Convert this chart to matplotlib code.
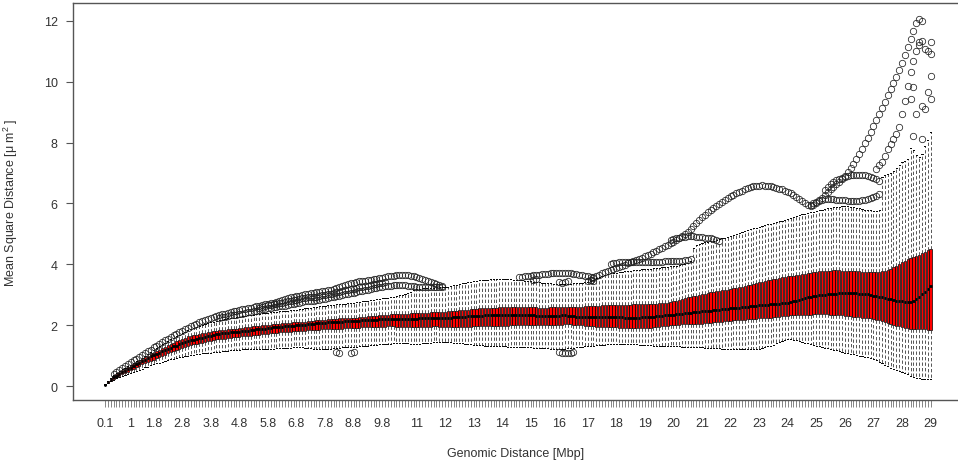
import numpy as np
import matplotlib
matplotlib.use("Agg")
import matplotlib.pyplot as plt

#################################
######## Data (read off) ########
#################################
# one box per 0.1 Mbp, from 0.1 to 29.0 Mbp
genomic_mbp = [round(0.1 * k, 1) for k in range(1, 291)]

# tick labels that are printed under the axis
shown_labels = ["0.1", "1", "1.8", "2.8", "3.8", "4.8", "5.8", "6.8", "7.8", "8.8", "9.8",
                "11", "12", "13", "14", "15", "16", "17", "18", "19", "20", "21", "22",
                "23", "24", "25", "26", "27", "28", "29"]

median = [
    0.04, 0.13, 0.21, 0.28, 0.34, 0.40, 0.45, 0.50, 0.55, 0.59,
    0.65, 0.71, 0.77, 0.82, 0.87, 0.92, 0.97, 1.02, 1.06, 1.10,
    1.14, 1.18, 1.22, 1.26, 1.30, 1.33, 1.37, 1.40, 1.44, 1.47,
    1.50, 1.52, 1.55, 1.57, 1.59, 1.61, 1.63, 1.66, 1.68, 1.70,
    1.71, 1.73, 1.74, 1.75, 1.76, 1.77, 1.78, 1.79, 1.80, 1.81,
    1.82, 1.84, 1.85, 1.86, 1.87, 1.88, 1.89, 1.91, 1.92, 1.93,
    1.94, 1.94, 1.95, 1.96, 1.96, 1.97, 1.98, 1.99, 2.00, 2.01,
    2.02, 2.03, 2.04, 2.05, 2.06, 2.07, 2.07, 2.08, 2.09, 2.10,
    2.10, 2.11, 2.12, 2.12, 2.13, 2.13, 2.14, 2.14, 2.15, 2.15,
    2.16, 2.16, 2.17, 2.17, 2.18, 2.18, 2.19, 2.19, 2.20, 2.20,
    2.20, 2.21, 2.21, 2.20, 2.20, 2.19, 2.20, 2.20, 2.21, 2.21,
    2.22, 2.22, 2.23, 2.23, 2.24, 2.24, 2.23, 2.23, 2.24, 2.24,
    2.25, 2.25, 2.26, 2.26, 2.27, 2.28, 2.28, 2.29, 2.29, 2.30,
    2.30, 2.31, 2.31, 2.32, 2.32, 2.32, 2.33, 2.33, 2.33, 2.33,
    2.33, 2.33, 2.34, 2.34, 2.34, 2.34, 2.33, 2.33, 2.33, 2.32,
    2.32, 2.31, 2.31, 2.30, 2.30, 2.30, 2.30, 2.31, 2.31, 2.31,
    2.32, 2.32, 2.31, 2.30, 2.29, 2.28, 2.28, 2.27, 2.27, 2.27,
    2.27, 2.27, 2.27, 2.27, 2.26, 2.26, 2.26, 2.26, 2.26, 2.26,
    2.26, 2.26, 2.25, 2.25, 2.25, 2.25, 2.25, 2.25, 2.26, 2.26,
    2.27, 2.27, 2.28, 2.29, 2.30, 2.31, 2.32, 2.33, 2.34, 2.35,
    2.36, 2.37, 2.38, 2.39, 2.40, 2.41, 2.42, 2.43, 2.44, 2.45,
    2.46, 2.47, 2.48, 2.49, 2.50, 2.51, 2.52, 2.53, 2.54, 2.55,
    2.56, 2.57, 2.58, 2.59, 2.60, 2.61, 2.62, 2.63, 2.64, 2.65,
    2.66, 2.67, 2.67, 2.68, 2.69, 2.70, 2.71, 2.72, 2.73, 2.74,
    2.76, 2.78, 2.80, 2.83, 2.86, 2.88, 2.91, 2.93, 2.95, 2.97,
    2.98, 2.99, 3.00, 3.01, 3.02, 3.03, 3.04, 3.05, 3.05, 3.06,
    3.06, 3.06, 3.05, 3.05, 3.04, 3.03, 3.02, 3.01, 2.99, 2.97,
    2.95, 2.93, 2.91, 2.89, 2.87, 2.85, 2.83, 2.81, 2.80, 2.78,
    2.76, 2.75, 2.76, 2.80, 2.86, 2.93, 3.01, 3.10, 3.20, 3.30,
]

q3 = [
    0.05, 0.15, 0.24, 0.32, 0.39, 0.45, 0.51, 0.56, 0.61, 0.66,
    0.71, 0.77, 0.83, 0.88, 0.94, 0.99, 1.04, 1.09, 1.14, 1.19,
    1.24, 1.29, 1.34, 1.39, 1.43, 1.47, 1.51, 1.55, 1.59, 1.63,
    1.65, 1.67, 1.69, 1.71, 1.73, 1.75, 1.77, 1.79, 1.80, 1.82,
    1.83, 1.84, 1.85, 1.86, 1.87, 1.88, 1.89, 1.90, 1.91, 1.93,
    1.94, 1.95, 1.96, 1.97, 1.98, 1.99, 2.00, 2.01, 2.02, 2.04,
    2.05, 2.05, 2.06, 2.07, 2.07, 2.08, 2.09, 2.09, 2.10, 2.11,
    2.12, 2.13, 2.14, 2.15, 2.16, 2.17, 2.17, 2.18, 2.19, 2.20,
    2.20, 2.21, 2.22, 2.22, 2.23, 2.24, 2.24, 2.25, 2.25, 2.26,
    2.27, 2.28, 2.29, 2.29, 2.30, 2.31, 2.32, 2.33, 2.34, 2.35,
    2.36, 2.36, 2.37, 2.37, 2.38, 2.38, 2.38, 2.39, 2.39, 2.39,
    2.40, 2.40, 2.41, 2.41, 2.42, 2.42, 2.43, 2.43, 2.44, 2.44,
    2.45, 2.46, 2.47, 2.48, 2.49, 2.50, 2.51, 2.51, 2.52, 2.53,
    2.54, 2.55, 2.55, 2.56, 2.57, 2.57, 2.58, 2.58, 2.59, 2.59,
    2.59, 2.60, 2.60, 2.60, 2.60, 2.60, 2.59, 2.59, 2.59, 2.59,
    2.59, 2.59, 2.58, 2.58, 2.58, 2.58, 2.59, 2.59, 2.60, 2.60,
    2.61, 2.61, 2.61, 2.61, 2.60, 2.60, 2.61, 2.61, 2.62, 2.62,
    2.63, 2.63, 2.64, 2.64, 2.65, 2.65, 2.65, 2.66, 2.66, 2.66,
    2.66, 2.66, 2.67, 2.67, 2.67, 2.68, 2.68, 2.68, 2.69, 2.69,
    2.70, 2.70, 2.71, 2.71, 2.72, 2.72, 2.73, 2.74, 2.76, 2.78,
    2.81, 2.84, 2.87, 2.89, 2.91, 2.93, 2.95, 2.97, 2.99, 3.02,
    3.04, 3.06, 3.08, 3.10, 3.11, 3.13, 3.14, 3.16, 3.17, 3.19,
    3.21, 3.23, 3.25, 3.27, 3.29, 3.31, 3.33, 3.35, 3.38, 3.41,
    3.43, 3.45, 3.47, 3.49, 3.51, 3.53, 3.55, 3.57, 3.58, 3.60,
    3.62, 3.63, 3.65, 3.66, 3.68, 3.69, 3.71, 3.72, 3.74, 3.76,
    3.77, 3.78, 3.78, 3.79, 3.79, 3.80, 3.80, 3.80, 3.79, 3.79,
    3.79, 3.78, 3.78, 3.77, 3.77, 3.76, 3.76, 3.75, 3.75, 3.74,
    3.74, 3.75, 3.77, 3.79, 3.82, 3.86, 3.90, 3.95, 4.01, 4.07,
    4.12, 4.16, 4.20, 4.25, 4.28, 4.32, 4.37, 4.42, 4.46, 4.52,
]

q1 = [
    0.03, 0.11, 0.18, 0.24, 0.29, 0.34, 0.39, 0.43, 0.47, 0.51,
    0.56, 0.61, 0.66, 0.71, 0.75, 0.79, 0.83, 0.87, 0.91, 0.95,
    0.99, 1.03, 1.07, 1.11, 1.15, 1.18, 1.22, 1.25, 1.28, 1.32,
    1.34, 1.37, 1.39, 1.41, 1.43, 1.45, 1.47, 1.49, 1.51, 1.53,
    1.54, 1.55, 1.56, 1.58, 1.59, 1.60, 1.61, 1.62, 1.63, 1.64,
    1.65, 1.66, 1.67, 1.68, 1.69, 1.70, 1.71, 1.72, 1.73, 1.74,
    1.75, 1.76, 1.77, 1.78, 1.78, 1.79, 1.80, 1.80, 1.81, 1.82,
    1.82, 1.83, 1.84, 1.84, 1.85, 1.85, 1.86, 1.86, 1.87, 1.87,
    1.88, 1.88, 1.89, 1.89, 1.90, 1.90, 1.91, 1.91, 1.92, 1.92,
    1.93, 1.93, 1.93, 1.94, 1.94, 1.94, 1.95, 1.95, 1.95, 1.96,
    1.96, 1.96, 1.95, 1.95, 1.94, 1.94, 1.93, 1.93, 1.93, 1.93,
    1.94, 1.94, 1.95, 1.95, 1.95, 1.96, 1.96, 1.95, 1.95, 1.95,
    1.95, 1.95, 1.94, 1.94, 1.94, 1.94, 1.95, 1.95, 1.95, 1.96,
    1.96, 1.96, 1.97, 1.97, 1.97, 1.98, 1.98, 1.98, 1.98, 1.98,
    1.98, 1.98, 1.99, 1.99, 1.99, 1.99, 1.99, 1.99, 1.99, 1.99,
    1.99, 1.99, 1.99, 2.00, 2.00, 2.00, 2.01, 2.01, 2.01, 2.02,
    2.02, 2.03, 2.03, 2.03, 2.02, 2.01, 2.00, 1.99, 1.98, 1.97,
    1.96, 1.96, 1.95, 1.95, 1.94, 1.94, 1.94, 1.93, 1.93, 1.93,
    1.92, 1.92, 1.92, 1.91, 1.91, 1.91, 1.91, 1.91, 1.91, 1.91,
    1.92, 1.92, 1.93, 1.94, 1.95, 1.96, 1.97, 1.98, 1.99, 2.00,
    2.01, 2.02, 2.03, 2.03, 2.04, 2.04, 2.05, 2.05, 2.05, 2.05,
    2.06, 2.07, 2.08, 2.09, 2.10, 2.11, 2.12, 2.13, 2.14, 2.15,
    2.16, 2.16, 2.17, 2.18, 2.18, 2.19, 2.20, 2.20, 2.21, 2.22,
    2.23, 2.24, 2.24, 2.25, 2.26, 2.27, 2.28, 2.29, 2.30, 2.31,
    2.32, 2.32, 2.33, 2.33, 2.34, 2.34, 2.35, 2.35, 2.36, 2.37,
    2.37, 2.37, 2.36, 2.36, 2.35, 2.35, 2.34, 2.33, 2.32, 2.31,
    2.30, 2.29, 2.28, 2.27, 2.26, 2.25, 2.24, 2.23, 2.22, 2.20,
    2.18, 2.16, 2.13, 2.10, 2.07, 2.04, 2.01, 1.98, 1.96, 1.93,
    1.91, 1.90, 1.89, 1.88, 1.87, 1.87, 1.86, 1.86, 1.85, 1.85,
]

whisker_low = [
    0.02, 0.09, 0.15, 0.20, 0.25, 0.29, 0.33, 0.36, 0.39, 0.42,
    0.46, 0.50, 0.54, 0.57, 0.61, 0.64, 0.68, 0.71, 0.74, 0.77,
    0.80, 0.83, 0.85, 0.88, 0.90, 0.92, 0.94, 0.96, 0.98, 1.00,
    1.02, 1.03, 1.05, 1.06, 1.07, 1.08, 1.09, 1.10, 1.11, 1.12,
    1.13, 1.14, 1.15, 1.16, 1.17, 1.18, 1.19, 1.20, 1.21, 1.22,
    1.22, 1.22, 1.22, 1.22, 1.22, 1.22, 1.22, 1.23, 1.23, 1.23,
    1.24, 1.24, 1.25, 1.25, 1.26, 1.26, 1.27, 1.27, 1.27, 1.27,
    1.26, 1.25, 1.24, 1.23, 1.22, 1.22, 1.22, 1.22, 1.22, 1.23,
    1.24, 1.25, 1.26, 1.27, 1.27, 1.28, 1.28, 1.29, 1.29, 1.30,
    1.31, 1.32, 1.33, 1.34, 1.35, 1.36, 1.37, 1.37, 1.38, 1.38,
    1.39, 1.40, 1.41, 1.41, 1.41, 1.40, 1.40, 1.39, 1.39, 1.38,
    1.39, 1.40, 1.41, 1.42, 1.43, 1.44, 1.45, 1.46, 1.46, 1.46,
    1.45, 1.44, 1.43, 1.42, 1.41, 1.40, 1.39, 1.38, 1.37, 1.36,
    1.35, 1.34, 1.34, 1.33, 1.33, 1.32, 1.32, 1.31, 1.31, 1.30,
    1.30, 1.29, 1.29, 1.28, 1.28, 1.28, 1.27, 1.27, 1.27, 1.27,
    1.26, 1.26, 1.25, 1.25, 1.24, 1.24, 1.23, 1.23, 1.22, 1.22,
    1.22, 1.23, 1.24, 1.25, 1.26, 1.27, 1.28, 1.29, 1.30, 1.31,
    1.32, 1.33, 1.34, 1.35, 1.36, 1.36, 1.37, 1.37, 1.38, 1.38,
    1.38, 1.38, 1.38, 1.37, 1.37, 1.37, 1.37, 1.36, 1.36, 1.36,
    1.35, 1.34, 1.33, 1.32, 1.32, 1.31, 1.31, 1.30, 1.30, 1.30,
    1.30, 1.30, 1.29, 1.29, 1.28, 1.28, 1.28, 1.27, 1.27, 1.27,
    1.26, 1.26, 1.25, 1.25, 1.24, 1.24, 1.23, 1.23, 1.22, 1.22,
    1.22, 1.22, 1.23, 1.23, 1.23, 1.22, 1.22, 1.22, 1.22, 1.22,
    1.24, 1.27, 1.30, 1.33, 1.36, 1.40, 1.44, 1.48, 1.52, 1.55,
    1.54, 1.52, 1.50, 1.47, 1.44, 1.42, 1.40, 1.37, 1.35, 1.32,
    1.30, 1.28, 1.26, 1.24, 1.22, 1.20, 1.18, 1.15, 1.13, 1.10,
    1.08, 1.06, 1.04, 1.02, 1.00, 0.98, 0.96, 0.94, 0.91, 0.89,
    0.85, 0.80, 0.75, 0.70, 0.65, 0.60, 0.56, 0.52, 0.49, 0.45,
    0.42, 0.38, 0.34, 0.30, 0.27, 0.25, 0.24, 0.24, 0.23, 0.23,
]

whisker_high = [
    0.06, 0.17, 0.27, 0.35, 0.42, 0.49, 0.55, 0.60, 0.65, 0.70,
    0.75, 0.81, 0.87, 0.93, 0.99, 1.06, 1.12, 1.19, 1.25, 1.31,
    1.37, 1.42, 1.48, 1.53, 1.58, 1.63, 1.68, 1.73, 1.78, 1.83,
    1.88, 1.91, 1.94, 1.97, 2.00, 2.03, 2.06, 2.09, 2.11, 2.14,
    2.16, 2.18, 2.20, 2.22, 2.24, 2.25, 2.27, 2.28, 2.29, 2.31,
    2.32, 2.34, 2.35, 2.37, 2.38, 2.39, 2.40, 2.41, 2.42, 2.43,
    2.44, 2.45, 2.46, 2.47, 2.48, 2.49, 2.50, 2.51, 2.52, 2.53,
    2.55, 2.57, 2.58, 2.60, 2.61, 2.62, 2.63, 2.64, 2.65, 2.66,
    2.67, 2.68, 2.69, 2.70, 2.71, 2.72, 2.73, 2.74, 2.75, 2.76,
    2.78, 2.80, 2.81, 2.83, 2.84, 2.86, 2.87, 2.88, 2.89, 2.90,
    2.92, 2.94, 2.96, 2.98, 3.00, 3.03, 3.06, 3.10, 3.14, 3.18,
    3.20, 3.21, 3.22, 3.22, 3.23, 3.23, 3.24, 3.24, 3.24, 3.25,
    3.27, 3.29, 3.31, 3.33, 3.35, 3.37, 3.39, 3.41, 3.43, 3.45,
    3.46, 3.47, 3.48, 3.49, 3.50, 3.51, 3.52, 3.52, 3.53, 3.53,
    3.52, 3.52, 3.51, 3.50, 3.49, 3.48, 3.47, 3.46, 3.45, 3.44,
    3.43, 3.42, 3.41, 3.40, 3.39, 3.38, 3.37, 3.36, 3.36, 3.35,
    3.35, 3.35, 3.35, 3.36, 3.37, 3.38, 3.39, 3.40, 3.41, 3.42,
    3.46, 3.50, 3.54, 3.58, 3.62, 3.65, 3.68, 3.70, 3.72, 3.73,
    3.74, 3.76, 3.77, 3.78, 3.79, 3.80, 3.81, 3.82, 3.83, 3.84,
    3.85, 3.86, 3.87, 3.88, 3.89, 3.90, 3.91, 3.92, 3.93, 3.95,
    3.96, 3.98, 4.00, 4.02, 4.05, 4.10, 4.55, 4.62, 4.66, 4.70,
    4.72, 4.74, 4.76, 4.78, 4.80, 4.82, 4.85, 4.88, 4.91, 4.94,
    4.97, 5.00, 5.03, 5.06, 5.09, 5.12, 5.15, 5.18, 5.20, 5.22,
    5.25, 5.28, 5.31, 5.34, 5.37, 5.40, 5.42, 5.44, 5.47, 5.49,
    5.52, 5.55, 5.58, 5.61, 5.64, 5.66, 5.68, 5.71, 5.73, 5.76,
    5.78, 5.80, 5.82, 5.84, 5.86, 5.88, 5.89, 5.90, 5.92, 5.93,
    5.92, 5.90, 5.88, 5.86, 5.84, 5.82, 5.80, 5.79, 5.78, 5.76,
    5.76, 5.80, 6.88, 6.92, 6.96, 7.00, 7.06, 7.15, 7.28, 7.35,
    7.40, 7.46, 7.82, 7.75, 7.60, 7.52, 7.63, 7.90, 8.10, 8.36,
]

# outlier chains: first Mbp of the chain, then one value per box
out_top_start = 0.4
out_top = [
    0.40, 0.47, 0.54, 0.60, 0.66, 0.72, 0.78,
    0.84, 0.90, 0.96, 1.02, 1.08, 1.14, 1.20, 1.27, 1.33, 1.39,
    1.45, 1.51, 1.56, 1.62, 1.67, 1.72, 1.77, 1.82, 1.87, 1.92,
    1.97, 2.01, 2.05, 2.09, 2.13, 2.17, 2.21, 2.24, 2.27, 2.30,
    2.33, 2.36, 2.38, 2.40, 2.43, 2.45, 2.47, 2.50, 2.52, 2.54,
    2.56, 2.58, 2.60, 2.62, 2.64, 2.66, 2.68, 2.70, 2.72, 2.74,
    2.76, 2.79, 2.82, 2.85, 2.88, 2.91, 2.93, 2.95, 2.97, 2.99,
    3.01, 3.03, 3.05, 3.07, 3.08, 3.10, 3.11, 3.12, 3.14, 3.17,
    3.20, 3.23, 3.26, 3.29, 3.32, 3.35, 3.38, 3.40, 3.42, 3.44,
    3.45, 3.46, 3.47, 3.49, 3.51, 3.52, 3.54, 3.56, 3.58, 3.60,
    3.62, 3.63, 3.64, 3.65, 3.65, 3.65, 3.64, 3.62, 3.60, 3.57,
    3.54, 3.51, 3.48, 3.45, 3.42, 3.39, 3.36, 3.33, 3.30,
]

out_second_start = 4.1
out_second = [
    2.24, 2.26, 2.28, 2.30, 2.32, 2.33, 2.35, 2.36, 2.38, 2.40,
    2.42, 2.44, 2.46, 2.48, 2.50, 2.52, 2.54, 2.56, 2.58, 2.60,
    2.61, 2.62, 2.63, 2.64, 2.66, 2.68, 2.70, 2.72, 2.74, 2.76,
    2.78, 2.79, 2.80, 2.81, 2.82, 2.83, 2.85, 2.87, 2.89, 2.91,
    2.93, 2.95, 2.97, 2.99, 3.01, 3.03, 3.05, 3.07, 3.09, 3.11,
    3.13, 3.15, 3.17, 3.19, 3.21, 3.23, 3.25, 3.27, 3.28, 3.29,
    3.30, 3.31, 3.32, 3.32, 3.32, 3.31, 3.30, 3.29, 3.28, 3.27,
    3.27, 3.27, 3.26, 3.26, 3.26, 3.26, 3.25, 3.25, 3.25,
]

out_middle_start = 5.5
out_middle = [
    2.58, 2.60, 2.62, 2.65, 2.67, 2.69,
    2.70, 2.72, 2.74, 2.76, 2.78, 2.80, 2.82, 2.84, 2.86, 2.88,
    2.90, 2.91, 2.92, 2.93, 2.94, 2.96, 2.98, 3.00, 3.02, 3.04,
    3.06, 3.08, 3.10, 3.12, 3.14, 3.16, 3.18, 3.20, 3.22, 3.24,
    3.26, 3.28, 3.30, 3.32, 3.34, 3.36, 3.38, 3.40, 3.42,
]

out_mid15_start = 14.6
out_mid15 = [
    3.58, 3.59, 3.60, 3.62, 3.63,
    3.64, 3.65, 3.66, 3.67, 3.68, 3.69, 3.70, 3.70, 3.71, 3.71,
    3.71, 3.71, 3.70, 3.70, 3.69, 3.68, 3.66, 3.64, 3.62, 3.60,
    3.58, 3.57,
]

out_big_start = 17.0
out_big = [
    3.45, 3.50, 3.56, 3.61, 3.66, 3.71, 3.75, 3.78, 3.82, 3.85,
    3.88, 3.91, 3.95, 3.99, 4.03, 4.07, 4.11, 4.15, 4.18, 4.22,
    4.26, 4.30, 4.34, 4.39, 4.44, 4.49, 4.54, 4.59, 4.64, 4.70,
    4.75, 4.80, 4.85, 4.92, 4.99, 5.07, 5.16, 5.26, 5.36, 5.46,
    5.55, 5.63, 5.71, 5.79, 5.86, 5.93, 5.99, 6.05, 6.11, 6.17,
    6.23, 6.28, 6.33, 6.38, 6.42, 6.46, 6.50, 6.53, 6.56, 6.58,
    6.59, 6.60, 6.59, 6.58, 6.56, 6.54, 6.52, 6.49, 6.46, 6.42,
    6.38, 6.33, 6.27, 6.21, 6.14, 6.07, 6.01, 5.96, 5.93, 5.95,
    6.02, 6.10, 6.19, 6.28, 6.37, 6.46, 6.55, 6.64, 6.72, 6.80,
    6.90, 7.02, 7.15, 7.30, 7.46, 7.63, 7.80, 7.98, 8.16, 8.35,
    8.55, 8.75, 8.95, 9.15, 9.35, 9.55, 9.75, 9.95, 10.15, 10.38,
    10.62, 10.88, 11.15, 11.42, 11.68, 11.92, 12.05, 12.00,
]

out_branch18_start = 17.8
out_branch18 = [
    4.02, 4.04, 4.05, 4.06, 4.07, 4.07, 4.08, 4.08, 4.08, 4.08,
    4.08, 4.08, 4.08, 4.08, 4.08, 4.09, 4.09, 4.09, 4.09, 4.10,
    4.10, 4.10, 4.10, 4.11, 4.11, 4.12, 4.13, 4.14, 4.16,
]

out_branch20_start = 19.9
out_branch20 = [
    4.80, 4.83, 4.86, 4.88, 4.90, 4.91, 4.92, 4.92, 4.92, 4.91,
    4.90, 4.89, 4.88, 4.87, 4.85, 4.83, 4.80, 4.77,
]

out_loop_up_start = 25.3
out_loop_up = [
    6.45, 6.55, 6.63, 6.70, 6.76, 6.81, 6.85, 6.88, 6.90, 6.92,
    6.93, 6.94, 6.94, 6.94, 6.93, 6.91, 6.88, 6.84, 6.80, 6.75,
]

out_loop_low_start = 24.8
out_loop_low = [
    5.95, 6.00, 6.05, 6.09, 6.12, 6.14, 6.15, 6.15, 6.14, 6.13,
    6.12, 6.11, 6.10, 6.09, 6.08, 6.08, 6.08, 6.09, 6.10, 6.12,
    6.15, 6.18, 6.21, 6.25, 6.30,
]

out_rise27_start = 27.1
out_rise27 = [
    7.13, 7.25, 7.36, 7.55, 7.79, 7.95, 8.12, 8.30, 8.51, 8.94,
    9.37, 9.86, 10.32, 10.68, 11.01, 11.20, 11.34,
]

# single outliers (Mbp, value)
out_single_mbp = [8.2, 8.3, 8.7, 8.8, 15.1, 15.2, 16.0, 16.1, 16.2, 16.3,
                  16.0, 16.1, 16.2, 16.3, 16.4, 16.5, 17.1, 17.2,
                  28.3, 28.4, 28.4, 28.5, 28.6, 28.7, 28.7, 28.8, 28.8, 28.9,
                  28.9, 29.0, 29.0, 29.0, 29.0]
out_single_val = [1.12, 1.10, 1.09, 1.11, 3.50, 3.52, 3.42, 3.40, 3.42, 3.44,
                  1.12, 1.10, 1.08, 1.08, 1.10, 1.12, 3.47, 3.46,
                  9.43, 8.22, 9.83, 8.94, 11.30, 9.20, 8.12, 9.10, 11.08, 11.00,
                  9.66, 11.30, 10.90, 10.19, 9.43]

#########################################
########### Build the box stats #########
#########################################
n_box = len(genomic_mbp)
fliers = [[] for _ in range(n_box)]


def box_index(mbp):
    return int(round(mbp * 10)) - 1


def add_chain(start, vals):
    i0 = box_index(start)
    for k, v in enumerate(vals):
        fliers[i0 + k].append(v)


add_chain(out_top_start, out_top)
add_chain(out_second_start, out_second)
add_chain(out_middle_start, out_middle)
add_chain(out_mid15_start, out_mid15)
add_chain(out_big_start, out_big)
add_chain(out_branch18_start, out_branch18)
add_chain(out_branch20_start, out_branch20)
add_chain(out_loop_up_start, out_loop_up)
add_chain(out_loop_low_start, out_loop_low)
add_chain(out_rise27_start, out_rise27)
for m, v in zip(out_single_mbp, out_single_val):
    fliers[box_index(m)].append(v)

stats = []
for i in range(n_box):
    stats.append({"med": median[i], "q1": q1[i], "q3": q3[i],
                  "whislo": whisker_low[i], "whishi": whisker_high[i],
                  "fliers": np.array(fliers[i])})

#################################
############ Plotting ###########
#################################
plt.rcParams["font.family"] = ["Liberation Sans", "DejaVu Sans"]
plt.rcParams["mathtext.fontset"] = "custom"
plt.rcParams["mathtext.rm"] = "Liberation Sans"
plt.rcParams["mathtext.default"] = "regular"

text_col = "#333333"
frame_col = "#555555"

fig = plt.figure(figsize=(9.58, 4.64), dpi=100)
ax = fig.add_axes([73 / 958, 63 / 464, 885 / 958, 397 / 464])

positions = np.arange(n_box)
ax.bxp(stats, positions=positions, widths=0.8, patch_artist=True,
       boxprops=dict(facecolor="#ff0000", edgecolor="black", linewidth=0.5),
       medianprops=dict(color="black", linewidth=2.0),
       whiskerprops=dict(color="#3a3a3a", linewidth=0.6, linestyle=(0, (4, 2.6))),
       capprops=dict(color="black", linewidth=0.7),
       capwidths=0.4,
       flierprops=dict(marker="o", markerfacecolor="none", markeredgecolor="#222222",
                       markersize=4.6, markeredgewidth=0.55, linestyle="none"),
       manage_ticks=False)

# axis ranges (box index on x)
ax.set_xlim(-11.2, 298.6)
ax.set_ylim(-0.46, 12.59)

# x ticks: one per box, only some labelled
tick_labels = []
for m in genomic_mbp:
    lab = ("%g" % m)
    tick_labels.append(lab if lab in shown_labels else "")
ax.set_xticks(positions)
ax.set_xticklabels(tick_labels, fontsize=9, color=text_col)
ax.tick_params(axis="x", length=5, width=0.5, color=frame_col, pad=7)

ax.set_yticks([0, 2, 4, 6, 8, 10, 12])
ax.set_yticklabels(["0", "2", "4", "6", "8", "10", "12"], fontsize=9, color=text_col)
ax.tick_params(axis="y", length=5, width=0.8, color=frame_col, pad=6)

for side in ["left", "top", "bottom"]:
    ax.spines[side].set_color(frame_col)
    ax.spines[side].set_linewidth(1.0)
ax.spines["right"].set_visible(False)

ax.set_xlabel("Genomic Distance [Mbp]", fontsize=9, color=text_col)
ax.xaxis.set_label_coords(0.5, -0.118)
ax.set_ylabel("Mean Square Distance [\u03bc m$^{2}$ ]", fontsize=9, color=text_col)
ax.yaxis.set_label_coords(-0.06, 0.5)

fig.savefig("out.png", dpi=100)
